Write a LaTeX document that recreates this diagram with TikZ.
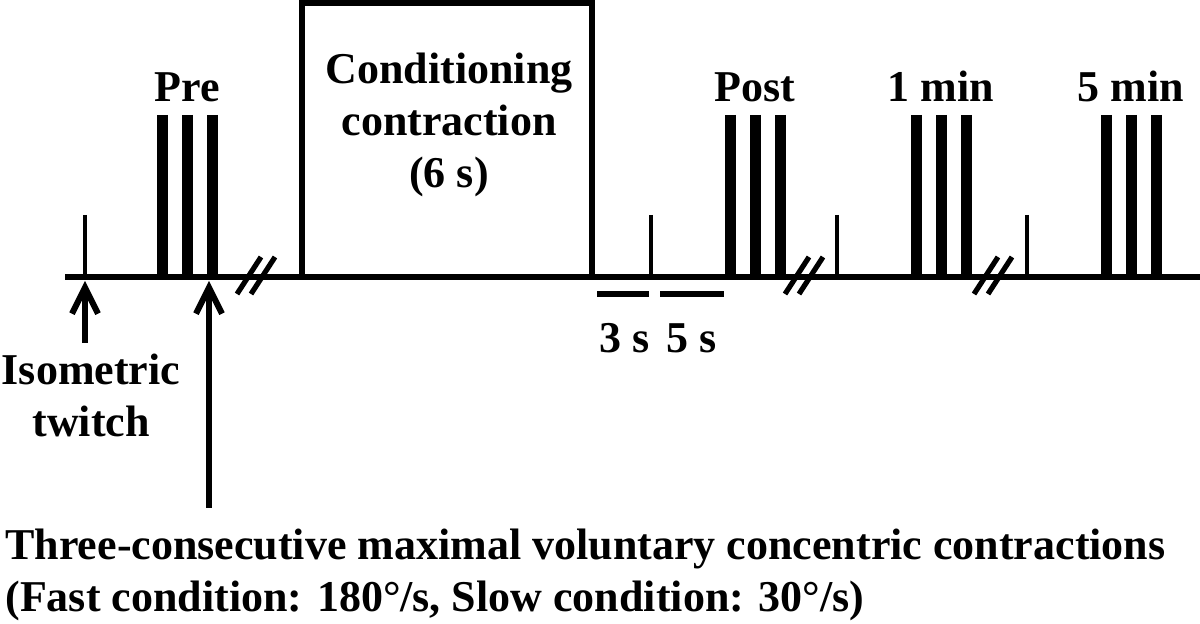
\documentclass[tikz,border=0pt]{standalone}
\usepackage{fontspec}
\setmainfont{Liberation Serif}
\usetikzlibrary{arrows.meta,positioning}

\tikzset{
    lbl/.style={font=\fontsize{22}{26}\selectfont\bfseries, inner sep=0pt, align=center},
    axisline/.style={line width=3pt},
    twitchtick/.style={line width=1.6pt},
    mvcbar/.style={line width=5.5pt},
    condbox/.style={line width=3pt},
    gap/.style={line width=3pt},
    breakmark/.style={line width=2.6pt},
    pointer/.style={line width=3pt, -{Straight Barb[length=13pt,width=13pt,line width=3pt]}}
}

\begin{document}
\begin{tikzpicture}[x=0.5pt, y=-0.5pt]
    \useasboundingbox (0,0) rectangle (1200,624);

    % Time axis
    \draw[axisline] (65,277) -- (1200,277);

    % Conditioning contraction box
    \draw[condbox] (302,277) |- (592,3.5) -- (592,277);
    \node[lbl, anchor=base] (cond) at (449,188) {Conditioning\\contraction\\(6 s)};

    % Single isometric twitches
    \foreach \x in {85,651,837,1027}
        \draw[twitchtick] (\x,215) -- (\x,277);

    % Three consecutive MVCs with their labels
    \foreach \c/\lab in {187/Pre, 755/Post, 941/1 min, 1131/5 min} {
        \foreach \d in {-25,0,25}
            \draw[mvcbar] (\c+\d,115) -- (\c+\d,277);
        \node[lbl, anchor=base] (set\c) at (\c,102) {\lab};
    }

    % Break marks on the axis
    \foreach \x in {237,785,974} {
        \draw[breakmark] (\x,294) -- (\x+24,257);
        \draw[breakmark] (\x+14,294) -- (\x+38,257);
    }

    % Rest intervals after the conditioning contraction
    \draw[gap] (597,294) -- (649,294);
    \draw[gap] (660,294) -- (724,294);
    \node[lbl, anchor=base] (three) at (625,353) {3 s};
    \node[lbl, anchor=base] (five) at (692,353) {5 s};

    % Pointers
    \coordinate (twitch) at (85,281);
    \coordinate (mvc) at (209,281);
    \node[lbl, anchor=base] (twlab) at (91,437) {Isometric\\twitch};
    \node[lbl, anchor=base west, align=left] (mvclab) at (5,612)
        {Three-consecutive maximal voluntary concentric contractions\\(Fast condition: 180°/s, Slow condition: 30°/s)};
    \draw[pointer] (85,343) -- (twitch);
    \draw[pointer] (209,508) -- (mvc);
\end{tikzpicture}
\end{document}
